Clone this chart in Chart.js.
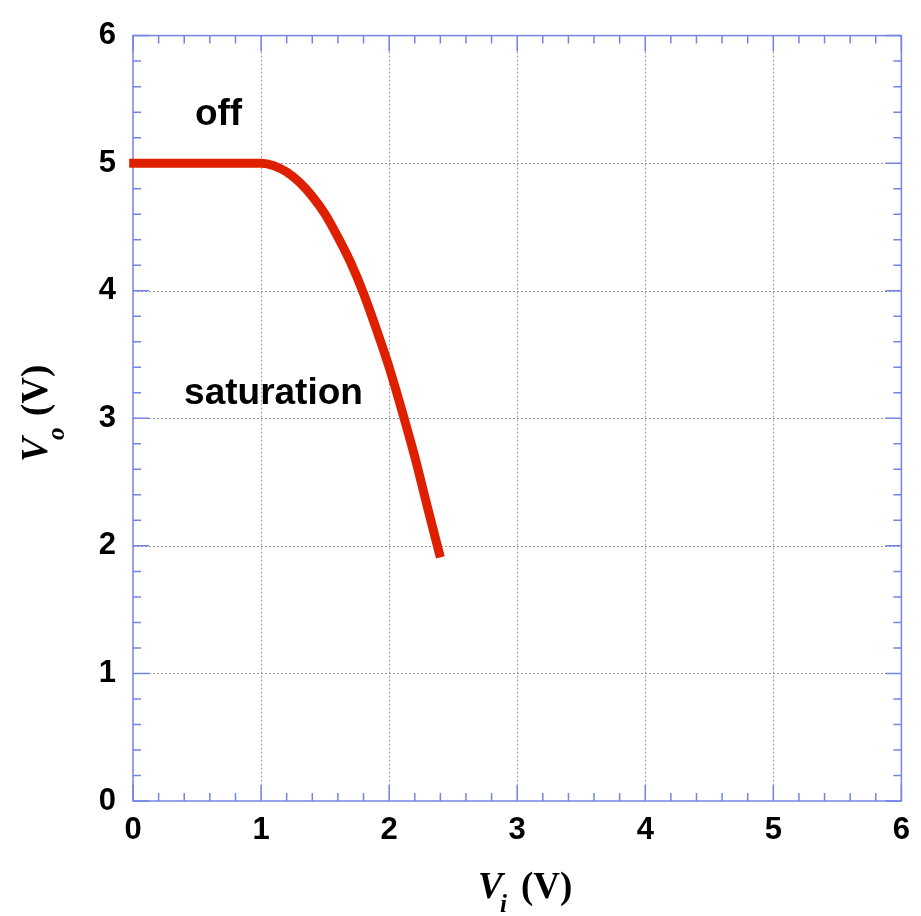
<!DOCTYPE html>
<html>
<head>
<meta charset="utf-8">
<script src="https://cdn.jsdelivr.net/npm/chart.js@4.4.1/dist/chart.umd.min.js"></script>
<style>
html,body{margin:0;padding:0;background:#fff;}
#wrap{width:921px;height:916px;}
</style>
</head>
<body>
<div id="wrap"><canvas id="c" width="921" height="916"></canvas></div>
<script>
// Data
const viValues = [-0.03, 0.5, 1.0, 1.1, 1.2, 1.3, 1.4, 1.5, 1.6, 1.7, 1.8, 1.9, 2.0, 2.1, 2.2, 2.3, 2.4];
const voValues = [5.0, 5.0, 5.0, 4.98, 4.93, 4.85, 4.74, 4.60, 4.42, 4.22, 3.98, 3.70, 3.40, 3.06, 2.70, 2.30, 1.91];
const xTickValues = [0, 1, 2, 3, 4, 5, 6];
const yTickValues = [0, 1, 2, 3, 4, 5, 6];
const annotations = [
  {text: 'off', x: 0.668, y: 5.30},
  {text: 'saturation', x: 1.097, y: 3.115}
];

const points = viValues.map((v, i) => ({x: v, y: voValues[i]}));
const frameColor = '#7484e4';

const framePlugin = {
  id: 'frame',
  beforeDatasetsDraw(chart) {
    const {ctx, chartArea: a, scales: {x, y}} = chart;
    ctx.save();
    ctx.strokeStyle = '#9a9a9a';
    ctx.lineWidth = 1;
    ctx.setLineDash([2, 2]);
    xTickValues.forEach(v => {
      if (v === 0 || v === 6) return;
      const px = Math.round(x.getPixelForValue(v)) + 0.5;
      ctx.beginPath(); ctx.moveTo(px, a.top); ctx.lineTo(px, a.bottom); ctx.stroke();
    });
    yTickValues.forEach(v => {
      if (v === 0 || v === 6) return;
      const py = Math.round(y.getPixelForValue(v)) + 0.5;
      ctx.beginPath(); ctx.moveTo(a.left, py); ctx.lineTo(a.right, py); ctx.stroke();
    });
    ctx.setLineDash([]);
    ctx.strokeStyle = frameColor;
    ctx.lineWidth = 1.5;
    for (let k = 0; k <= 30; k++) {
      const v = k / 5;
      const len = (k % 5 === 0) ? 16 : 8;
      const px = x.getPixelForValue(v);
      const py = y.getPixelForValue(v);
      ctx.beginPath();
      ctx.moveTo(px, a.bottom); ctx.lineTo(px, a.bottom - len);
      ctx.moveTo(px, a.top); ctx.lineTo(px, a.top + len);
      ctx.moveTo(a.left, py); ctx.lineTo(a.left + len, py);
      ctx.moveTo(a.right, py); ctx.lineTo(a.right - len, py);
      ctx.stroke();
    }
    ctx.strokeRect(a.left, a.top, a.right - a.left, a.bottom - a.top);
    ctx.restore();
  },
  afterDatasetsDraw(chart) {
    const {ctx, scales: {x, y}} = chart;
    ctx.save();
    ctx.fillStyle = '#000';
    ctx.textAlign = 'center';
    ctx.textBaseline = 'alphabetic';
    ctx.font = 'bold 37px "Liberation Sans", Arial, sans-serif';
    annotations.forEach(t => {
      ctx.fillText(t.text, x.getPixelForValue(t.x), y.getPixelForValue(t.y));
    });
    ctx.textAlign = 'left';
    const serif = '"Liberation Serif", "DejaVu Serif", serif';
    const bx = 478, by = 898;
    ctx.font = 'italic bold 37px ' + serif;
    ctx.fillText('V', bx, by);
    ctx.font = 'italic bold 25px ' + serif;
    ctx.fillText('i', bx + 22, by + 14);
    ctx.font = 'bold 37px ' + serif;
    ctx.fillText('(V)', bx + 43, by);
    ctx.translate(47, 462);
    ctx.rotate(-Math.PI / 2);
    ctx.font = 'italic bold 37px ' + serif;
    ctx.fillText('V', 0, 0);
    ctx.font = 'italic bold 25px ' + serif;
    ctx.fillText('o', 22, 17);
    ctx.font = 'bold 37px ' + serif;
    ctx.fillText('(V)', 46, 0);
    ctx.restore();
  }
};

new Chart(document.getElementById('c'), {
  type: 'scatter',
  data: {
    datasets: [{
      data: points,
      showLine: true,
      borderColor: '#de2000',
      borderWidth: 9,
      pointRadius: 0,
      fill: false,
      cubicInterpolationMode: 'monotone',
      borderCapStyle: 'butt',
      borderJoinStyle: 'round',
      clip: false
    }]
  },
  options: {
    responsive: false,
    animation: false,
    layout: {padding: {top: 32, right: 18, left: 0, bottom: 0}},
    plugins: {legend: {display: false}, tooltip: {enabled: false}},
    scales: {
      x: {
        type: 'linear', min: 0, max: 6,
        afterFit(s) { s.height = 115; },
        afterBuildTicks(s) { s.ticks = xTickValues.map(v => ({value: v})); },
        grid: {display: false, drawTicks: false},
        border: {display: false},
        ticks: {color: '#000', padding: 11, font: {family: '"Liberation Sans", Arial, sans-serif', size: 31, weight: 'bold'}}
      },
      y: {
        type: 'linear', min: 0, max: 6,
        afterFit(s) { s.width = 133; },
        afterBuildTicks(s) { s.ticks = yTickValues.map(v => ({value: v})); },
        grid: {display: false, drawTicks: false},
        border: {display: false},
        ticks: {color: '#000', padding: 17, font: {family: '"Liberation Sans", Arial, sans-serif', size: 31, weight: 'bold'}}
      }
    }
  },
  plugins: [framePlugin]
});
</script>
</body>
</html>
